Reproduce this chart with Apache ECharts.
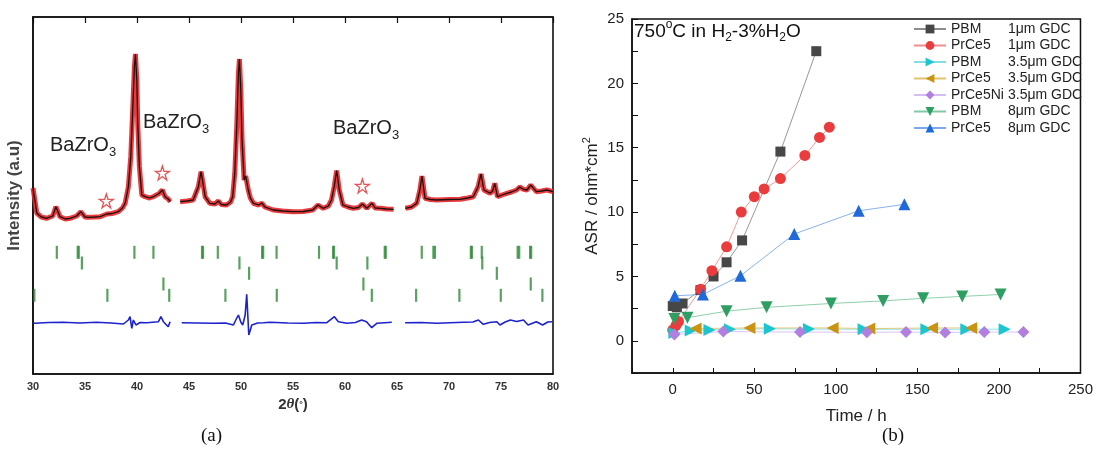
<!DOCTYPE html>
<html><head><meta charset="utf-8">
<script src="https://cdn.jsdelivr.net/npm/echarts@6/dist/echarts.min.js"></script>
<style>html,body{margin:0;padding:0;background:#fff}#c{width:1096px;height:468px}</style>
</head><body><div id="c"></div>
<script>
// ---------- Panel (a): XRD refinement ----------
const twoThetaTicks = [30, 80, 5];
const obsSeg1 = [[30.0,186],[30.1,185.7],[30.37,160.7],[30.8,157],[31.3,155.7],[31.9,158],[32.2,167.3],[32.6,157.3],[33.1,155],[33.57,155.7],[34.2,158],[34.6,162.3],[35.0,157],[35.3,156.7],[35.9,157],[36.45,157.3],[37.1,160],[37.6,160.5],[38.2,162.3],[38.6,166],[38.86,170.7],[39.17,187.3],[39.4,217.3],[39.6,267.3],[39.75,307.3],[39.85,320],[39.98,294],[40.07,250.7],[40.23,207.3],[40.46,179],[40.78,177.3],[41.2,176],[41.58,177.3],[42.15,180.7],[42.44,184],[42.7,177.3],[43.0,175],[43.2,172.3]];
const obsSeg2 = [[44.15,172.3],[44.8,173],[45.4,174],[45.9,187.3],[46.16,202.3],[46.4,187.3],[46.55,177.3],[47.0,170.7],[47.5,170],[47.83,173],[48.1,169.5],[48.6,169],[49.0,172],[49.2,177.3],[49.4,200.7],[49.6,250.7],[49.75,300.7],[49.85,315],[49.98,284],[50.1,234],[50.3,194],[50.45,198],[50.55,200],[50.7,184],[50.9,176],[51.2,170.7],[51.7,169],[52.0,171],[52.3,167],[53.1,164],[54.0,163],[55.0,162.3],[56.0,162.5],[56.9,164],[57.4,169],[57.9,165.7],[58.4,168],[58.7,174],[58.96,187.3],[59.2,203.3],[59.45,184],[59.8,169],[60.3,167],[60.8,165.7],[61.3,166.5],[61.67,170],[62.1,165.7],[62.6,170.7],[62.9,166],[63.4,165.7],[64.0,165],[64.67,164.7]];
const obsSeg3 = [[65.8,165.7],[66.4,167],[66.9,170.7],[67.2,184],[67.4,198],[67.7,175.7],[68.2,174.5],[68.8,174],[70.0,174.5],[71.06,174.7],[71.8,176],[72.34,177.3],[72.8,187.3],[73.08,200],[73.36,184],[73.95,180.7],[74.2,183],[74.4,190.7],[74.66,177.3],[75.1,179],[75.56,180.7],[76.0,182],[76.5,184],[76.8,187],[77.16,184.7],[77.5,184],[77.86,189],[78.1,186],[78.4,182.3],[78.9,183],[79.4,184],[80.0,182.3]];
const diffSeg1 = [[30.0,51],[30.2,50.7],[31.5,51.5],[32.9,51.7],[34.5,51],[36.1,51.7],[37.5,51],[38.7,50],[39.17,54],[39.33,57.3],[39.5,45.7],[39.65,54],[39.9,49],[40.3,51.5],[40.94,51.3],[42.06,52.3],[42.3,57.3],[42.54,52.3],[43.0,47.3],[43.18,52.3]];
const diffSeg2 = [[44.3,51.3],[45.8,51],[47.35,50.7],[48.5,51],[49.27,49],[49.5,54],[49.75,59],[49.98,52],[50.17,49],[50.4,59],[50.55,79.7],[50.75,39],[51.04,49],[51.6,51],[52.15,51.3],[52.8,51.7],[54.5,51],[56.0,50.7],[57.2,51.5],[58.25,51.3],[58.98,57.3],[59.36,52.3],[60.17,50.7],[61.0,51.5],[61.6,54],[62.07,52.3],[62.57,46.3],[63.05,50.7],[63.8,51.3],[64.5,51.7]];
const diffSeg3 = [[65.78,51.3],[67.3,51.5],[68.83,50.7],[70.1,51.3],[71.38,51.7],[72.3,52],[72.83,54],[73.3,49.7],[73.9,51.5],[74.6,52.3],[74.9,49],[75.4,52],[75.9,54],[76.5,52.5],[77.16,54],[77.6,49],[78.4,52.3],[79.0,49],[79.5,52],[79.9,52.3]];
const reflRowA = [32.29,34.3,34.4,39.75,41.58,46.25,46.35,47.77,52.03,52.13,53.42,57.5,58.85,58.95,63.82,63.92,67.38,68.5,68.65,72.1,72.2,73.15,76.6,76.75,77.8,77.9];
const reflRowB = [34.7,49.85,59.2,62.15,73.2];
const reflRowC = [50.78,74.6];
const reflRowD = [42.54,61.77,77.86];
const reflRowE = [30.13,37.15,43.1,48.5,53.44,62.58,66.84,71.0,74.98,78.98];
const reflLevels = [121.7, 111, 100.7, 90, 78.7];
const impurityStars = [[37.05,173],[42.44,201],[61.67,188]];
const phaseLabels = ['BaZrO', 'BaZrO', 'BaZrO'];

// ---------- Panel (b): ASR vs time ----------
const legendNames = ['PBM','PrCe5','PBM','PrCe5','PrCe5Ni','PBM','PrCe5'];
const legendSizes = ['1μm GDC','1μm GDC','3.5μm GDC','3.5μm GDC','3.5μm GDC','8μm GDC','8μm GDC'];
const asrPBM1 = [[0,2.7],[2.5,2.6],[6,2.9],[17,3.95],[25,5.0],[33,6.1],[42.5,7.8],[66,14.7],[88,22.5]];
const asrPrCe5_1 = [[0,0.85],[2,1.2],[3.5,1.5],[17,4.0],[24,5.45],[33,7.3],[42,10.0],[50,11.2],[56,11.8],[66,12.6],[81,14.4],[90,15.8],[96,16.6]];
const asrPBM35 = [[1,0.6],[11,0.8],[22.5,0.85],[35,0.9],[59.5,0.93],[83.5,0.92],[117,0.9],[155.5,0.9],[180,0.9],[203.5,0.9]];
const asrPrCe5_35 = [[14,0.95],[47,1.0],[98,1.0],[120.5,0.95],[159,1.0],[183,1.0]];
const asrPrCe5Ni_35 = [[1,0.5],[31,0.72],[78,0.68],[119,0.66],[143,0.68],[167,0.65],[191,0.68],[215,0.68]];
const asrPBM8 = [[1,1.7],[9,1.8],[33,2.3],[57.5,2.6],[97,2.9],[129,3.1],[153.5,3.3],[177.5,3.45],[201,3.6]];
const asrPrCe5_8 = [[1.2,3.5],[18.5,3.6],[41.5,5.05],[74.5,8.3],[114,10.1],[142,10.6]];

const FONT = '"Liberation Sans", Arial, sans-serif';
const SERIF = '"Liberation Serif", "DejaVu Serif", serif';
const starPath = 'path://M50,2 L61,36 L97,36 L68,57 L79,92 L50,70 L21,92 L32,57 L3,36 L39,36 Z';

const chart = echarts.init(document.getElementById('c'), null, {renderer: 'canvas'});

function obsSeries(d){ return {type:'line', xAxisIndex:0, yAxisIndex:0, data:d, showSymbol:false, silent:true,
  lineStyle:{color:'#e8262a', width:5, opacity:0.9}, z:2}; }
function calcSeries(d){ return {type:'line', xAxisIndex:0, yAxisIndex:0, data:d, showSymbol:false, silent:true,
  lineStyle:{color:'#1a1111', width:1.3}, z:3}; }
function diffSeries(d){ return {type:'line', xAxisIndex:0, yAxisIndex:0, data:d, showSymbol:false, silent:true,
  lineStyle:{color:'#1c22cc', width:1.6}, z:3}; }
function reflSeries(row, lvl, col){ return {type:'scatter', xAxisIndex:0, yAxisIndex:0, silent:true,
  data: row.map(x => [x, lvl]), symbol:'rect', symbolSize:[2.2, 13], itemStyle:{color: col || '#2f8a3a'}, z:2}; }

const names = legendNames.map((n,i) => n + ' ' + legendSizes[i]);
function asrSeries(i, d, sym, rot, size, col, lineCol){
  return {name: names[i], type:'line', xAxisIndex:2, yAxisIndex:1, data:d, symbol:sym, symbolRotate:rot, symbolSize:size,
    itemStyle:{color:col}, lineStyle:{color:lineCol, width:0.9}, z:5};
}

const option = {
  animation:false,
  backgroundColor:'#fff',
  grid:[
    {left:33, right:543, top:17, bottom:94, show:true, borderColor:'#111', borderWidth:1.6, containLabel:false},
    {left:632, right:13, top:19, bottom:95, show:true, borderColor:'#111', borderWidth:1.5, containLabel:false}
  ],
  xAxis:[
    {gridIndex:0, type:'value', min:twoThetaTicks[0], max:twoThetaTicks[1], interval:twoThetaTicks[2], position:'bottom',
      axisLine:{onZero:false, lineStyle:{color:'#111', width:1.6}}, axisTick:{show:false}, splitLine:{show:false},
      axisLabel:{fontFamily:FONT, fontWeight:'bold', fontSize:11, color:'#333', margin:7},
      name:'2{i|θ}({d|°})', nameLocation:'middle', nameGap:23,
      nameTextStyle:{fontFamily:FONT, fontWeight:'bold', fontSize:15, color:'#333',
        rich:{i:{fontFamily:SERIF, fontStyle:'italic', fontWeight:'bold', fontSize:15, color:'#333'}, d:{fontSize:9, fontWeight:'bold', color:'#333'}}}},
    {gridIndex:0, type:'value', min:twoThetaTicks[0], max:twoThetaTicks[1], interval:twoThetaTicks[2], position:'top',
      axisLine:{onZero:false, lineStyle:{color:'#111', width:1.6}}, axisTick:{show:true, inside:true, length:6, lineStyle:{color:'#111', width:1.2}},
      axisLabel:{show:false}, splitLine:{show:false}},
    {gridIndex:1, type:'value', min:-25, max:250, interval:25, position:'bottom',
      axisLine:{onZero:false, lineStyle:{color:'#111', width:1.5}}, axisTick:{show:true, inside:true, length:5, lineStyle:{color:'#111'}},
      splitLine:{show:false},
      axisLabel:{fontFamily:FONT, fontSize:15, color:'#222', margin:9, formatter: v => (v % 50 === 0 ? String(v) : '')},
      name:'Time / h', nameLocation:'middle', nameGap:35, nameTextStyle:{fontFamily:FONT, fontSize:17, color:'#222'}}
  ],
  yAxis:[
    {gridIndex:0, type:'value', min:0, max:357, axisLine:{onZero:false, lineStyle:{color:'#111', width:1.6}}, axisTick:{show:false},
      axisLabel:{show:false}, splitLine:{show:false},
      name:'Intensity (a.u)', nameLocation:'middle', nameGap:10,
      nameTextStyle:{fontFamily:FONT, fontWeight:'bold', fontSize:17, color:'#444'}},
    {gridIndex:1, type:'value', min:-2.5, max:25, interval:2.5, position:'left',
      axisLine:{onZero:false, lineStyle:{color:'#111', width:1.5}}, axisTick:{show:true, inside:true, length:6, lineStyle:{color:'#111'}},
      splitLine:{show:false},
      axisLabel:{fontFamily:FONT, fontSize:15, color:'#222', margin:8, formatter: v => (v % 5 === 0 ? String(v) : '')},
      name:'ASR / ohm*cm{sup|2}', nameLocation:'middle', nameGap:28,
      nameTextStyle:{fontFamily:FONT, fontSize:17, color:'#222', rich:{sup:{fontSize:11, color:'#222', padding:[0,0,12,0]}}}}
  ],
  legend:{
    data:names, orient:'vertical', left:908, top:17, itemWidth:32, itemHeight:11, itemGap:2.5,
    textStyle:{fontFamily:FONT, fontSize:14, color:'#222', lineHeight:14,
      rich:{a:{width:57, fontFamily:FONT, fontSize:14, color:'#222'}, b:{fontFamily:FONT, fontSize:14, color:'#222'}}},
    formatter: function(n){ const i = names.indexOf(n); return '{a|' + legendNames[i] + '}{b|' + legendSizes[i] + '}'; },
    itemStyle:{borderWidth:0}
  },
  graphic:[
    {type:'text', left:50, top:135, style:{text: phaseLabels[0] + '{s|3}', font:'20px ' + FONT, fill:'#222',
      rich:{s:{fontSize:13, fill:'#222', padding:[14,0,0,0]}}}},
    {type:'text', left:143, top:112, style:{text: phaseLabels[1] + '{s|3}', font:'20px ' + FONT, fill:'#222',
      rich:{s:{fontSize:13, fill:'#222', padding:[14,0,0,0]}}}},
    {type:'text', left:333, top:118, style:{text: phaseLabels[2] + '{s|3}', font:'20px ' + FONT, fill:'#222',
      rich:{s:{fontSize:13, fill:'#222', padding:[14,0,0,0]}}}},
    {type:'text', left:634, top:19, style:{text:'750{p|o}C in H{s|2}-3%H{s|2}O', font:'19px ' + FONT, fill:'#111',
      rich:{p:{fontSize:12, fill:'#111', padding:[0,0,13,0]}, s:{fontSize:12, fill:'#111', padding:[13,0,0,0]}}}},
    {type:'text', left:201, top:427, style:{text:'(a)', font:'19px ' + SERIF, fill:'#111'}},
    {type:'text', left:882, top:427, style:{text:'(b)', font:'19px ' + SERIF, fill:'#111'}}
  ],
  series:[
    obsSeries(obsSeg1), obsSeries(obsSeg2), obsSeries(obsSeg3),
    calcSeries(obsSeg1), calcSeries(obsSeg2), calcSeries(obsSeg3),
    diffSeries(diffSeg1), diffSeries(diffSeg2), diffSeries(diffSeg3),
    reflSeries(reflRowA, reflLevels[0]), reflSeries(reflRowB, reflLevels[1]), reflSeries(reflRowC, reflLevels[2]),
    reflSeries(reflRowD, reflLevels[3]), reflSeries(reflRowE, reflLevels[4]),
    {type:'scatter', xAxisIndex:0, yAxisIndex:0, data:impurityStars, symbol:starPath, symbolSize:14, silent:true,
      itemStyle:{color:'rgba(255,255,255,0)', borderColor:'#e02a2a', borderWidth:1.3}, z:6},
    asrSeries(0, asrPBM1, 'rect', 0, 10, '#474747', '#8c8c8c'),
    asrSeries(1, asrPrCe5_1, 'circle', 0, 11, '#ea3c3c', '#f08e8e'),
    asrSeries(2, asrPBM35, 'triangle', -90, 12, '#1bc6ce', '#7fdfe3'),
    asrSeries(3, asrPrCe5_35, 'triangle', 90, 12, '#c99412', '#e2c36e'),
    asrSeries(4, asrPrCe5Ni_35, 'diamond', 0, 12, '#b07fe0', '#d6bdf2'),
    asrSeries(5, asrPBM8, 'triangle', 180, 12, '#2e9e62', '#83c9a3'),
    asrSeries(6, asrPrCe5_8, 'triangle', 0, 12, '#1f6ad8', '#7ca9e8')
  ]
};
chart.setOption(option);
</script>
</body></html>
